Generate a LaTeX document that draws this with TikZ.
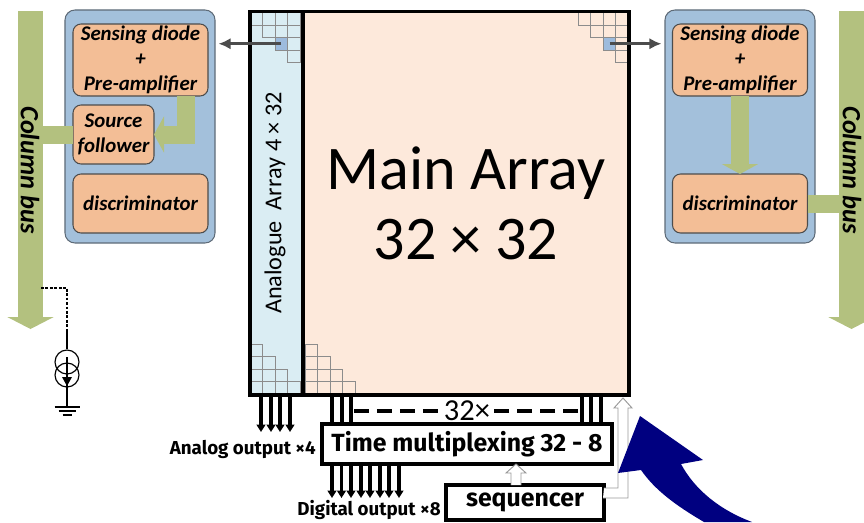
\documentclass[tikz,border=0pt]{standalone}
\usepackage{fontspec}
\setmainfont{Carlito}
\newfontfamily\labelfont{Fira Sans}
\usetikzlibrary{arrows.meta,positioning}
\definecolor{panelblue}{RGB}{163,192,219}
\definecolor{panelline}{RGB}{94,107,120}
\definecolor{cellorange}{RGB}{243,190,150}
\definecolor{busgreen}{RGB}{179,193,127}
\definecolor{analogblue}{RGB}{218,237,243}
\definecolor{mainpeach}{RGB}{253,233,219}
\definecolor{pixelblue}{RGB}{157,187,221}
\definecolor{bigblue}{RGB}{0,0,128}
\tikzset{
  panel/.style={draw=panelline,line width=0.9pt,fill=panelblue,rounded corners=3mm,
                minimum width=4.5cm,minimum height=6.99cm,outer sep=0pt},
  cell/.style={draw=black!70,line width=0.9pt,fill=cellorange,rounded corners=2.4mm,inner sep=0pt,
               align=center,outer sep=0pt,font=\fontsize{17.8}{21.5}\selectfont\bfseries\itshape},
  wideblock/.style={cell,minimum width=4.05cm},
  busbar/.style={busgreen,line width=7.5mm,-{Triangle[length=3.6mm,width=13.8mm]}},
  busstub/.style={busgreen,line width=5.4mm},
  greenflow/.style={busgreen,line width=5.4mm,-{Triangle[length=3mm,width=10.8mm]}},
  buslabel/.style={rotate=-90,font=\fontsize{22.5}{24}\selectfont\bfseries\itshape},
  probe/.style={black!70,line width=2.2pt,-{Latex[length=3.6mm,width=3.4mm]}},
  pixgrid/.style={black!45,line width=0.5pt},
  pixel/.style={fill=pixelblue,minimum size=3.75mm,inner sep=0pt,outer sep=0pt},
  frameline/.style={black,line width=3pt},
  wire/.style={black,line width=2.7pt},
  outwire/.style={wire,-{Triangle[length=2.2mm,width=2.6mm]}},
  logicbox/.style={draw=black,line width=2.9pt,fill=white,inner sep=0pt,outer sep=0pt,
                   font=\labelfont\fontsize{21.2}{24}\selectfont\bfseries},
  outlabel/.style={font=\labelfont\fontsize{16}{18}\selectfont\bfseries},
  busdash/.style={black,line width=3.4pt,dash pattern=on 12.8pt off 6.8pt},
  hollow/.style={draw=black!40,fill=white,line width=0.8pt},
  biasdash/.style={black,line width=1.2pt,dash pattern=on 2.4pt off 1.4pt},
  biasline/.style={black,line width=1pt},
}
\begin{document}
\begin{tikzpicture}[x=0.03cm,y=-0.03cm]
  \clip (0,0) rectangle (864,522);

  % left and right column buses
  \coordinate (BUSLTOP) at (30.5,11);
  \coordinate (BUSLEND) at (30.5,329);
  \coordinate (BUSRTOP) at (851.5,11);
  \coordinate (BUSREND) at (851.5,329);
  \draw[busbar] (BUSLTOP)--(BUSLEND);
  \draw[busbar] (BUSRTOP)--(BUSREND);

  % left pixel
  \node[panel] (PANELL) at (140,126.5) {};
  \node[wideblock,minimum height=2.16cm] (SENSL) at (140.5,60)
    {Sensing diode\\+\\Pre-amplifier};
  \node[cell,minimum width=2.43cm,minimum height=1.77cm] (SRC) at (113.5,134.5)
    {Source\\follower};
  \node[wideblock,minimum height=1.77cm] (DISCL) at (140.5,203.5) {discriminator};
  \draw[busstub] (SRC.west)--(BUSLTOP |- SRC.west);
  \draw[greenflow] ([xshift=1.365cm]SENSL.south) |- (SRC.east);

  % right pixel
  \node[panel] (PANELR) at (740,126.5) {};
  \node[wideblock,minimum height=2.16cm] (SENSR) at (740,60)
    {Sensing diode\\+\\Pre-amplifier};
  \node[wideblock,minimum height=1.77cm] (DISCR) at (740,203.5) {discriminator};
  \draw[greenflow] (SENSR.south)--(DISCR.north);
  \draw[busstub] (DISCR.east)--(BUSRTOP |- DISCR.east);

  \node[buslabel] (BUSLTXT) at (30,170) {Column bus};
  \node[buslabel] (BUSRTXT) at (852,170) {Column bus};

  % arrays
  \node[fill=analogblue,minimum width=1.59cm,minimum height=11.505cm,inner sep=0pt,outer sep=0pt]
    (ANALOG) at (276.5,203.25) {};
  \node[fill=mainpeach,minimum width=9.78cm,minimum height=11.505cm,inner sep=0pt,outer sep=0pt,
        align=center,font=\fontsize{53}{60}\selectfont] (MAIN) at (466,203.25)
    {Main Array\\32 × 32};
  \node[pixel] (PIXL) at (281,43.75) {};
  \node[pixel] (PIXR) at (609.5,43.75) {};
  \foreach \ox in {250,578}
    \foreach \r in {0,...,3}
      \foreach \c in {\r,...,3}
        \draw[pixgrid] (\ox+12.5*\c,12.5+12.5*\r) rectangle ++(12.5,12.5);
  \foreach \ox in {250,305}
    \foreach \r in {0,...,3}
      \foreach \c in {0,...,\r}
        \draw[pixgrid] (\ox+12.5*\c,344+12.5*\r) rectangle ++(12.5,12.5);
  \draw[frameline] (ANALOG.south west) rectangle (ANALOG.north east);
  \draw[frameline] (MAIN.south west) rectangle (MAIN.north east);
  \node[rotate=90,font=\fontsize{20.7}{22}\selectfont] (ANATXT) at (275,203)
    {Analogue\ \ Array 4 × 32};
  \draw[probe,shorten >=3pt] (PIXL.center)--(PIXL.center -| PANELL.east);
  \draw[probe,shorten >=3pt] (PIXR.center)--(PIXR.center -| PANELR.west);

  % readout
  \node[logicbox,minimum width=8.7cm,minimum height=1.2cm] (MUX) at (467,444)
    {Time multiplexing 32 - 8};
  \node[logicbox,minimum width=4.74cm,minimum height=1.05cm] (SEQ) at (525,502.5) {sequencer};
  \node[font=\fontsize{26}{28}\selectfont] (COUNT) at (467,411) {32×};
  \draw[busdash] (354,0 |- COUNT.west)--(COUNT.west);
  \draw[busdash] (578,0 |- COUNT.east)--(COUNT.east);
  \foreach \x in {332,342,351,582,591,601}
    \draw[wire] (\x,0 |- MAIN.south)--(\x,0 |- MUX.north);

  \coordinate (ANAEND) at (0,432);
  \coordinate (DIGEND) at (0,498);
  \foreach \x in {261,271,280,290}
    \draw[outwire] (\x,0 |- ANALOG.south)--(\x,0 |- ANAEND);
  \foreach \x in {332,341.5,351,361,370,380,389,399}
    \draw[outwire] (\x,0 |- MUX.south)--(\x,0 |- DIGEND);
  \node[outlabel,anchor=east,inner sep=0pt] (ANALAB) at (316,449) {Analog output ×4};
  \node[outlabel,anchor=east,inner sep=0pt] (DIGLAB) at (441,510) {Digital output ×8};

  \coordinate (SEQUP) at (516,0 |- SEQ.north);
  \draw[hollow] (SEQUP) ++(-5,0) -- ++(0,-12) -- ++(-5,0) -- ++(10,-9) -- ++(10,9)
    -- ++(-5,0) -- ++(0,12);
  \draw[hollow] (SEQ.east) ++(0,-14.5) -- ++(14,0) -- ++(0,-80) -- ++(-4,0) -- ++(9,-10)
    -- ++(9,10) -- ++(-4,0) -- ++(0,90) -- ++(-25,0);

  % large pointer
  \fill[bigblue] (640,416) -- (703,460) -- (681,464) .. controls (695,490) and (720,510) .. (752,522)
    -- (704,522) .. controls (675,505) and (655,490) .. (641,470) -- (618,473) -- cycle;

  % current source on the left bus
  \coordinate (BIASTAP) at (41,288);
  \coordinate (BIASEND) at (67,330);
  \coordinate (GND) at (67,407);
  \draw[biasdash] (BIASTAP) -| (BIASEND);
  \node[circle,draw,biasline,minimum size=7.2mm,inner sep=0pt] (ISRCA) at (67,362) {};
  \node[circle,draw,biasline,minimum size=7.2mm,inner sep=0pt] (ISRCB) at (67,375) {};
  \draw[biasline] (BIASEND)--(ISRCA.north);
  \draw[biasline] (ISRCA.center |- 0,357)--(GND);
  \fill (62,377) -- (72,377) -- (67,386) -- cycle;
  \draw[biasline] (GND) ++(-12.5,0) -- ++(25,0);
  \draw[biasline] (GND) ++(-8.5,4) -- ++(17,0);
  \draw[biasline] (GND) ++(-4.5,8) -- ++(9,0);
\end{tikzpicture}
\end{document}
